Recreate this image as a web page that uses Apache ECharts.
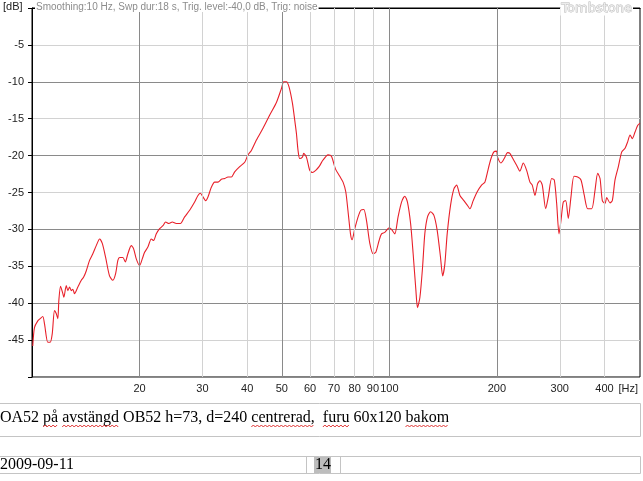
<!DOCTYPE html>
<html><head><meta charset="utf-8">
<script src="https://cdn.jsdelivr.net/npm/echarts@6/dist/echarts.min.js"></script>
<style>html,body{margin:0;padding:0;background:#fff}#c{width:643px;height:481px}</style>
</head><body><div id="c"></div>
<script>
// ---- data ----
const freqs = [10.05,10.16,10.38,10.54,10.72,10.84,11.07,11.24,11.39,11.56,11.69,11.81,11.89,12.02,12.20,12.28,12.47,12.60,12.74,12.88,
13.01,13.15,13.44,13.74,13.94,14.19,14.49,14.80,15.13,15.46,15.73,16.07,16.48,16.84,17.14,17.39,17.59,17.96,18.24,18.55,
18.96,19.24,19.58,20.00,20.35,20.66,21.10,21.57,21.89,22.28,22.76,23.25,23.66,24.16,24.70,25.34,26.01,26.74,27.62,28.52,
29.14,29.60,30.10,30.63,31.08,31.76,32.45,33.15,33.88,34.61,35.36,36.14,36.92,38.13,39.38,40.22,41.11,42.46,44.31,46.27,
48.31,49.90,50.64,51.53,52.40,53.56,54.36,54.96,55.53,56.14,57.12,57.60,58.62,59.88,60.93,62.24,63.58,65.24,67.38,68.87,
70.67,72.66,74.22,75.53,76.66,77.86,78.67,80.05,81.77,83.21,84.84,86.33,88.19,90.09,91.67,93.64,95.10,97.14,99.87,101.4,
103.6,105.8,108.2,110.5,112.4,114.7,116.6,118.7,119.9,121.8,123.9,125.7,127.9,130.5,133.3,136.1,139.1,141.0,143.0,145.2,
148.4,151.6,154.3,157.6,161.7,165.2,168.1,171.7,176.2,181.2,185.1,187.9,192.0,196.2,199.6,200.9,205.3,209.7,214.3,217.5,
222.2,227.1,232.0,237.1,242.3,247.5,251.2,255.6,260.1,264.0,268.0,273.9,278.6,284.7,289.5,294.0,298.5,302.3,306.8,311.6,
316.9,322.4,328.7,336.6,343.9,351.3,359.1,368.5,376.4,383.0,388.8,394.6,401.5,405.9,414.6,420.8,428.2,437.5,447.2,456.8,
464.8,471.8,478.8,487.2,495.8,503.0];
const levels = [-45.8,-43.3,-42.4,-42.1,-41.8,-42.8,-45.3,-45.3,-44.2,-41.0,-41.4,-42.1,-39.6,-37.7,-38.7,-39.2,-37.6,-38.3,-37.8,-38.3,
-38.1,-38.7,-37.8,-36.9,-36.5,-35.6,-34.2,-33.3,-32.2,-31.3,-31.9,-33.8,-36.3,-36.9,-36.0,-34.2,-33.8,-33.8,-34.4,-33.3,
-32.2,-32.6,-34.0,-34.9,-34.0,-33.1,-32.4,-31.3,-31.5,-30.6,-29.9,-29.5,-29.0,-29.2,-29.0,-29.2,-29.2,-28.3,-27.4,-26.3,
-25.4,-25.1,-25.6,-26.1,-25.6,-24.3,-23.6,-23.6,-23.2,-23.1,-22.9,-22.9,-22.2,-21.5,-20.9,-19.9,-19.3,-17.9,-16.3,-14.5,
-12.8,-10.9,-10.0,-10.0,-10.7,-12.9,-15.2,-17.0,-19.3,-20.4,-20.2,-19.7,-20.2,-22.0,-22.3,-22.0,-21.5,-20.6,-19.9,-20.1,
-21.8,-22.8,-23.6,-24.9,-27.6,-30.6,-31.4,-29.9,-28.3,-27.4,-27.3,-28.8,-31.9,-33.3,-33.1,-31.5,-30.6,-30.4,-29.8,-30.0,
-30.6,-28.3,-26.3,-25.5,-26.3,-29.2,-33.3,-38.3,-40.6,-39.2,-35.1,-30.6,-28.3,-27.6,-28.1,-30.1,-33.8,-36.3,-34.7,-30.6,
-26.7,-24.5,-24.0,-25.4,-26.1,-26.7,-27.2,-26.1,-24.9,-24.0,-23.6,-22.4,-20.6,-19.5,-19.4,-20.2,-21.0,-20.4,-19.6,-19.7,
-20.5,-21.3,-22.1,-21.0,-22.0,-23.6,-24.0,-25.4,-23.8,-23.4,-24.0,-27.2,-25.6,-23.1,-23.3,-26.5,-30.6,-28.8,-26.3,-26.1,
-28.5,-25.6,-22.8,-22.9,-23.3,-25.4,-27.2,-27.2,-24.7,-22.4,-23.1,-26.1,-26.5,-25.7,-26.4,-26.1,-23.3,-21.5,-19.5,-19.0,
-18.1,-17.2,-17.7,-16.8,-15.9,-15.6];
const xTickLabels = [20,30,40,50,60,70,80,90,100,200,300,400];
const xMajorLines = [20,50,100,200];
const xRange = [10, 503];
const yRange = [-50, 0];
const yStep = 5;
const yUnit = '[dB]';
const xUnit = '[Hz]';
const headerText = 'Smoothing:10 Hz, Swp dur:18 s, Trig. level:-40,0 dB, Trig: noise';
const brandText = 'Tombstone';
const noteText = 'OA52 på avstängd OB52 h=73, d=240 centrerad,  furu 60x120 bakom';
const spellWords = ['på','avstängd','centrerad,','furu','bakom'];
const dateText = '2009-09-11';
const pageText = '14';

// ---- chart ----
const chart = echarts.init(document.getElementById('c'), null, {renderer:'canvas'});
const curve = freqs.map((f,i)=>[f, levels[i]]);

const noteFont = '16px "Liberation Serif"';
const noteX = 0, noteY = 418;
const ctx = document.createElement('canvas').getContext('2d');
ctx.font = noteFont;
const squiggles = [];
spellWords.forEach(w=>{
  const idx = noteText.indexOf(w, 0);
  if (idx < 0) return;
  const x0 = noteX + ctx.measureText(noteText.slice(0, idx)).width;
  const x1 = x0 + ctx.measureText(w).width;
  const pts = [];
  let k = 0;
  for (let x = x0; x <= x1; x += 2, k++) pts.push([x, noteY + 7 + (k % 2 ? 0 : 2)]);
  squiggles.push({type:'polyline', silent:true, shape:{points:pts}, style:{stroke:'#e03030', lineWidth:1, fill:null}, z:10});
});

const option = {
  animation:false,
  backgroundColor:'#fff',
  grid:{left:32, right:3, top:8, bottom:104, show:true, borderColor:'#000', borderWidth:1, backgroundColor:'#fff', containLabel:false},
  xAxis:{
    type:'log', logBase:10, min:xRange[0], max:xRange[1],
    axisLine:{show:true, lineStyle:{color:'#000', width:1}},
    axisTick:{show:false},
    splitLine:{show:false},
    minorTick:{show:false}, minorSplitLine:{show:false},
    axisLabel:{show:true, customValues:xTickLabels, margin:6, color:'#222', fontSize:11, fontFamily:'"Liberation Sans", Arial, sans-serif'}
  },
  yAxis:{
    type:'value', min:yRange[0], max:yRange[1], interval:yStep,
    axisLine:{show:true, lineStyle:{color:'#000', width:1}},
    axisTick:{show:true, length:4, lineStyle:{color:'#000'}},
    splitLine:{show:true, lineStyle:{color:['#8a8a8a','#d2d2d2'], width:1}},
    axisLabel:{margin:8, color:'#222', fontSize:11, fontFamily:'"Liberation Sans", Arial, sans-serif',
      formatter:v => (v <= yRange[0] || v >= yRange[1]) ? '' : String(v)}
  },
  series:[
    {type:'line', data:[], z:1, silent:true,
     markLine:{silent:true, symbol:'none', animation:false, label:{show:false},
       data:xTickLabels.map(f=>({xAxis:f, lineStyle:{type:'solid', width:1, color: xMajorLines.includes(f) ? '#8a8a8a' : '#d2d2d2'}}))}},
    {type:'line', data:curve, z:3, symbol:'none', smooth:0.25, silent:true,
     lineStyle:{color:'#e8202a', width:1.1}}
  ],
  graphic:[
    {type:'text', left:3, top:1, style:{text:yUnit, fill:'#222', font:'11px "Liberation Sans", Arial, sans-serif'}},
    {type:'text', left:35, top:2, z:20, style:{text:headerText, fill:'#8c8c8c', font:'10px "Liberation Sans", Arial, sans-serif', backgroundColor:'#fff', padding:[0,1]}},
    {type:'text', right:10, top:2, z:20, style:{text:brandText, fill:'#ececec', stroke:'#b4b4b4', lineWidth:0.8, font:'13px "DejaVu Sans", sans-serif', backgroundColor:'#fff', padding:[0,1]}},
    {type:'text', right:5, top:383, style:{text:xUnit, fill:'#222', font:'11px "Liberation Sans", Arial, sans-serif'}},
    {type:'rect', silent:true, shape:{x:-1, y:403.5, width:641.5, height:33}, style:{fill:null, stroke:'#c4c4c4', lineWidth:1}},
    {type:'text', x:noteX, y:noteY, style:{text:noteText, fill:'#000', font:noteFont, verticalAlign:'middle'}, z:5},
    ...squiggles,
    {type:'rect', silent:true, shape:{x:-1, y:456.5, width:641.5, height:17}, style:{fill:null, stroke:'#c4c4c4', lineWidth:1}},
    {type:'line', silent:true, shape:{x1:306.5, y1:456.5, x2:306.5, y2:473.5}, style:{stroke:'#c4c4c4', lineWidth:1}},
    {type:'line', silent:true, shape:{x1:340.5, y1:456.5, x2:340.5, y2:473.5}, style:{stroke:'#c4c4c4', lineWidth:1}},
    {type:'rect', silent:true, shape:{x:314, y:457, width:17, height:16}, style:{fill:'#bdbdbd'}},
    {type:'text', x:0, y:465, style:{text:dateText, fill:'#000', font:noteFont, verticalAlign:'middle'}, z:5},
    {type:'text', x:315, y:465, style:{text:pageText, fill:'#000', font:noteFont, verticalAlign:'middle'}, z:5}
  ]
};
chart.setOption(option);
</script></body></html>
